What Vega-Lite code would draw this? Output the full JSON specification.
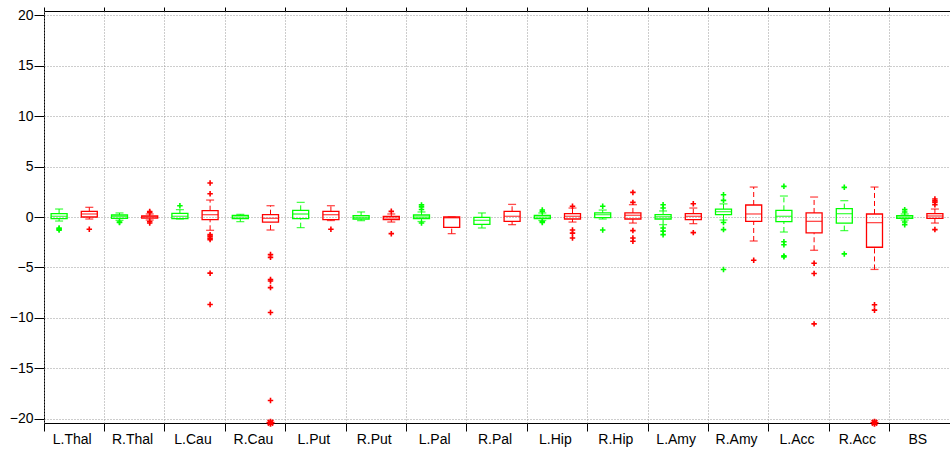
{
  "$schema": "https://vega.github.io/schema/vega-lite/v6.json",
  "width": 906,
  "height": 412,
  "autosize": {"type": "none"},
  "padding": {"left": 44, "top": 11, "right": 0, "bottom": 27},
  "config": {
    "view": {"stroke": "#000000", "strokeWidth": 1},
    "font": "Liberation Sans",
    "axis": {
      "labelFont": "Liberation Sans",
      "labelFontSize": 14,
      "labelColor": "#000000",
      "tickColor": "#000000",
      "domain": false,
      "gridColor": "#9a9a9a",
      "gridDash": [1, 2],
      "gridWidth": 1,
      "title": null
    }
  },
  "datasets": {
    "boxes": [
      {"region": "L.Thal", "grp": "grp1", "lo": -0.4, "q1": -0.17, "med": 0.07, "q3": 0.33, "hi": 0.79},
      {"region": "L.Thal", "grp": "grp2", "lo": -0.2, "q1": 0.0, "med": 0.3, "q3": 0.56, "hi": 0.96},
      {"region": "R.Thal", "grp": "grp1", "lo": -0.33, "q1": -0.13, "med": 0.05, "q3": 0.2, "hi": 0.4},
      {"region": "R.Thal", "grp": "grp2", "lo": -0.3, "q1": -0.12, "med": 0.0, "q3": 0.1, "hi": 0.3},
      {"region": "L.Cau", "grp": "grp1", "lo": -0.2, "q1": -0.17, "med": 0.07, "q3": 0.36, "hi": 0.73},
      {"region": "L.Cau", "grp": "grp2", "lo": -1.32, "q1": -0.26, "med": 0.23, "q3": 0.63, "hi": 1.68},
      {"region": "R.Cau", "grp": "grp1", "lo": -0.46, "q1": -0.17, "med": 0.0, "q3": 0.17, "hi": 0.26},
      {"region": "R.Cau", "grp": "grp2", "lo": -1.29, "q1": -0.5, "med": -0.13, "q3": 0.23, "hi": 1.12},
      {"region": "L.Put", "grp": "grp1", "lo": -1.06, "q1": -0.17, "med": 0.3, "q3": 0.66, "hi": 1.45},
      {"region": "L.Put", "grp": "grp2", "lo": -0.35, "q1": -0.26, "med": 0.23, "q3": 0.56, "hi": 1.12},
      {"region": "R.Put", "grp": "grp1", "lo": -0.36, "q1": -0.2, "med": -0.03, "q3": 0.13, "hi": 0.5},
      {"region": "R.Put", "grp": "grp2", "lo": -0.5, "q1": -0.26, "med": -0.1, "q3": 0.07, "hi": 0.3},
      {"region": "L.Pal", "grp": "grp1", "lo": -0.45, "q1": -0.15, "med": 0.0, "q3": 0.2, "hi": 0.5},
      {"region": "L.Pal", "grp": "grp2", "lo": -1.65, "q1": -1.02, "med": -0.08, "q3": 0.0, "hi": 0.0},
      {"region": "R.Pal", "grp": "grp1", "lo": -1.09, "q1": -0.73, "med": -0.33, "q3": -0.03, "hi": 0.4},
      {"region": "R.Pal", "grp": "grp2", "lo": -0.76, "q1": -0.43, "med": 0.07, "q3": 0.56, "hi": 1.25},
      {"region": "L.Hip", "grp": "grp1", "lo": -0.35, "q1": -0.17, "med": 0.0, "q3": 0.17, "hi": 0.4},
      {"region": "L.Hip", "grp": "grp2", "lo": -0.5, "q1": -0.2, "med": 0.07, "q3": 0.33, "hi": 0.89},
      {"region": "R.Hip", "grp": "grp1", "lo": -0.2, "q1": -0.07, "med": 0.23, "q3": 0.4, "hi": 0.69},
      {"region": "R.Hip", "grp": "grp2", "lo": -0.6, "q1": -0.2, "med": 0.17, "q3": 0.4, "hi": 1.22},
      {"region": "L.Amy", "grp": "grp1", "lo": -0.76, "q1": -0.2, "med": 0.03, "q3": 0.23, "hi": 0.6},
      {"region": "L.Amy", "grp": "grp2", "lo": -0.66, "q1": -0.26, "med": 0.07, "q3": 0.33, "hi": 0.89},
      {"region": "R.Amy", "grp": "grp1", "lo": -0.3, "q1": 0.23, "med": 0.53, "q3": 0.79, "hi": 1.3},
      {"region": "R.Amy", "grp": "grp2", "lo": -2.38, "q1": -0.43, "med": 0.3, "q3": 1.19, "hi": 2.97},
      {"region": "L.Acc", "grp": "grp1", "lo": -1.49, "q1": -0.46, "med": 0.07, "q3": 0.66, "hi": 2.08},
      {"region": "L.Acc", "grp": "grp2", "lo": -3.3, "q1": -1.58, "med": -0.43, "q3": 0.4, "hi": 1.98},
      {"region": "R.Acc", "grp": "grp1", "lo": -1.35, "q1": -0.6, "med": 0.33, "q3": 0.83, "hi": 1.62},
      {"region": "R.Acc", "grp": "grp2", "lo": -5.2, "q1": -3.0, "med": -0.56, "q3": 0.3, "hi": 2.97},
      {"region": "BS", "grp": "grp1", "lo": -0.3, "q1": -0.13, "med": 0.0, "q3": 0.13, "hi": 0.3},
      {"region": "BS", "grp": "grp2", "lo": -0.6, "q1": -0.13, "med": 0.1, "q3": 0.33, "hi": 0.79}
    ],
    "outliers": [
      {"region": "L.Thal", "grp": "grp1", "value": -1.1, "kind": "out"},
      {"region": "L.Thal", "grp": "grp1", "value": -1.2, "kind": "out"},
      {"region": "L.Thal", "grp": "grp1", "value": -1.3, "kind": "out"},
      {"region": "L.Thal", "grp": "grp2", "value": -1.22, "kind": "out"},
      {"region": "R.Thal", "grp": "grp1", "value": -0.5, "kind": "out"},
      {"region": "R.Thal", "grp": "grp1", "value": -0.55, "kind": "out"},
      {"region": "R.Thal", "grp": "grp2", "value": 0.45, "kind": "out"},
      {"region": "R.Thal", "grp": "grp2", "value": 0.55, "kind": "out"},
      {"region": "R.Thal", "grp": "grp2", "value": -0.45, "kind": "out"},
      {"region": "R.Thal", "grp": "grp2", "value": -0.6, "kind": "out"},
      {"region": "L.Cau", "grp": "grp1", "value": 1.12, "kind": "out"},
      {"region": "L.Cau", "grp": "grp2", "value": 2.31, "kind": "out"},
      {"region": "L.Cau", "grp": "grp2", "value": 3.37, "kind": "out"},
      {"region": "L.Cau", "grp": "grp2", "value": -1.75, "kind": "out"},
      {"region": "L.Cau", "grp": "grp2", "value": -1.9, "kind": "out"},
      {"region": "L.Cau", "grp": "grp2", "value": -2.1, "kind": "out"},
      {"region": "L.Cau", "grp": "grp2", "value": -2.24, "kind": "out"},
      {"region": "L.Cau", "grp": "grp2", "value": -5.57, "kind": "out"},
      {"region": "L.Cau", "grp": "grp2", "value": -8.68, "kind": "out"},
      {"region": "R.Cau", "grp": "grp2", "value": -3.73, "kind": "out"},
      {"region": "R.Cau", "grp": "grp2", "value": -4.0, "kind": "out"},
      {"region": "R.Cau", "grp": "grp2", "value": -6.2, "kind": "out"},
      {"region": "R.Cau", "grp": "grp2", "value": -6.35, "kind": "out"},
      {"region": "R.Cau", "grp": "grp2", "value": -7.0, "kind": "out"},
      {"region": "R.Cau", "grp": "grp2", "value": -9.47, "kind": "out"},
      {"region": "R.Cau", "grp": "grp2", "value": -18.2, "kind": "out"},
      {"region": "R.Cau", "grp": "grp2", "value": -20.4, "kind": "clipped"},
      {"region": "L.Put", "grp": "grp2", "value": -1.22, "kind": "out"},
      {"region": "R.Put", "grp": "grp2", "value": 0.56, "kind": "out"},
      {"region": "R.Put", "grp": "grp2", "value": -1.65, "kind": "out"},
      {"region": "L.Pal", "grp": "grp1", "value": 0.75, "kind": "out"},
      {"region": "L.Pal", "grp": "grp1", "value": 1.0, "kind": "out"},
      {"region": "L.Pal", "grp": "grp1", "value": 1.2, "kind": "out"},
      {"region": "L.Pal", "grp": "grp1", "value": -0.6, "kind": "out"},
      {"region": "L.Hip", "grp": "grp1", "value": 0.55, "kind": "out"},
      {"region": "L.Hip", "grp": "grp1", "value": 0.7, "kind": "out"},
      {"region": "L.Hip", "grp": "grp1", "value": -0.45, "kind": "out"},
      {"region": "L.Hip", "grp": "grp1", "value": -0.55, "kind": "out"},
      {"region": "L.Hip", "grp": "grp2", "value": 1.06, "kind": "out"},
      {"region": "L.Hip", "grp": "grp2", "value": -1.29, "kind": "out"},
      {"region": "L.Hip", "grp": "grp2", "value": -1.6, "kind": "out"},
      {"region": "L.Hip", "grp": "grp2", "value": -2.08, "kind": "out"},
      {"region": "R.Hip", "grp": "grp1", "value": 1.06, "kind": "out"},
      {"region": "R.Hip", "grp": "grp1", "value": -1.29, "kind": "out"},
      {"region": "R.Hip", "grp": "grp2", "value": 1.45, "kind": "out"},
      {"region": "R.Hip", "grp": "grp2", "value": 2.44, "kind": "out"},
      {"region": "R.Hip", "grp": "grp2", "value": -1.35, "kind": "out"},
      {"region": "R.Hip", "grp": "grp2", "value": -2.08, "kind": "out"},
      {"region": "R.Hip", "grp": "grp2", "value": -2.41, "kind": "out"},
      {"region": "L.Amy", "grp": "grp1", "value": 0.89, "kind": "out"},
      {"region": "L.Amy", "grp": "grp1", "value": 1.22, "kind": "out"},
      {"region": "L.Amy", "grp": "grp1", "value": -1.09, "kind": "out"},
      {"region": "L.Amy", "grp": "grp1", "value": -1.4, "kind": "out"},
      {"region": "L.Amy", "grp": "grp1", "value": -1.75, "kind": "out"},
      {"region": "L.Amy", "grp": "grp2", "value": 1.32, "kind": "out"},
      {"region": "L.Amy", "grp": "grp2", "value": -1.55, "kind": "out"},
      {"region": "R.Amy", "grp": "grp1", "value": 1.65, "kind": "out"},
      {"region": "R.Amy", "grp": "grp1", "value": 2.2, "kind": "out"},
      {"region": "R.Amy", "grp": "grp1", "value": -0.55, "kind": "out"},
      {"region": "R.Amy", "grp": "grp1", "value": -1.25, "kind": "out"},
      {"region": "R.Amy", "grp": "grp1", "value": -5.2, "kind": "out"},
      {"region": "R.Amy", "grp": "grp2", "value": -4.29, "kind": "out"},
      {"region": "L.Acc", "grp": "grp1", "value": 3.04, "kind": "out"},
      {"region": "L.Acc", "grp": "grp1", "value": -2.45, "kind": "out"},
      {"region": "L.Acc", "grp": "grp1", "value": -2.75, "kind": "out"},
      {"region": "L.Acc", "grp": "grp1", "value": -3.86, "kind": "out"},
      {"region": "L.Acc", "grp": "grp1", "value": -3.95, "kind": "out"},
      {"region": "L.Acc", "grp": "grp2", "value": -4.58, "kind": "out"},
      {"region": "L.Acc", "grp": "grp2", "value": -5.6, "kind": "out"},
      {"region": "L.Acc", "grp": "grp2", "value": -10.6, "kind": "out"},
      {"region": "R.Acc", "grp": "grp1", "value": 2.94, "kind": "out"},
      {"region": "R.Acc", "grp": "grp1", "value": -3.66, "kind": "out"},
      {"region": "R.Acc", "grp": "grp2", "value": -8.71, "kind": "out"},
      {"region": "R.Acc", "grp": "grp2", "value": -9.24, "kind": "out"},
      {"region": "R.Acc", "grp": "grp2", "value": -20.4, "kind": "clipped"},
      {"region": "BS", "grp": "grp1", "value": 0.5, "kind": "out"},
      {"region": "BS", "grp": "grp1", "value": 0.73, "kind": "out"},
      {"region": "BS", "grp": "grp1", "value": -0.5, "kind": "out"},
      {"region": "BS", "grp": "grp1", "value": -0.76, "kind": "out"},
      {"region": "BS", "grp": "grp2", "value": 1.22, "kind": "out"},
      {"region": "BS", "grp": "grp2", "value": 1.45, "kind": "out"},
      {"region": "BS", "grp": "grp2", "value": 1.6, "kind": "out"},
      {"region": "BS", "grp": "grp2", "value": 1.78, "kind": "out"},
      {"region": "BS", "grp": "grp2", "value": -1.25, "kind": "out"}
    ]
  },
  "resolve": {"axis": {"x": "independent"}},
  "layer": [
    {
      "encoding": {
        "x": {
          "field": "region",
          "type": "nominal",
          "scale": {
            "domain": ["L.Thal", "R.Thal", "L.Cau", "R.Cau", "L.Put", "R.Put", "L.Pal", "R.Pal", "L.Hip", "R.Hip", "L.Amy", "R.Amy", "L.Acc", "R.Acc", "BS"],
            "paddingInner": 0,
            "paddingOuter": 0
          },
          "axis": {
            "orient": "bottom",
            "bandPosition": 0,
            "grid": true,
            "tickSize": 8,
            "labelPadding": 1,
            "labelOffset": -2,
            "labelAngle": 0
          }
        },
        "xOffset": {
          "field": "grp",
          "type": "nominal",
          "scale": {"domain": ["grp1", "grp2"], "paddingInner": 0, "paddingOuter": 0}
        },
        "color": {
          "field": "grp",
          "type": "nominal",
          "scale": {"domain": ["grp1", "grp2"], "range": ["#00ff00", "#ff0000"]},
          "legend": null
        }
      },
      "layer": [
        {
          "data": {"name": "boxes"},
          "mark": {"type": "rule", "strokeDash": [5, 3], "strokeWidth": 1},
          "encoding": {
            "y": {
              "field": "q3",
              "type": "quantitative",
              "scale": {"domain": [-20.43, 20.43], "nice": false, "zero": false},
              "axis": {
                "values": [-20, -15, -10, -5, 0, 5, 10, 15, 20],
                "grid": true,
                "tickSize": 10,
                "labelPadding": 1
              }
            },
            "y2": {"field": "hi"}
          }
        },
        {
          "data": {"name": "boxes"},
          "mark": {"type": "rule", "strokeDash": [5, 3], "strokeWidth": 1},
          "encoding": {
            "y": {"field": "lo", "type": "quantitative"},
            "y2": {"field": "q1"}
          }
        },
        {
          "data": {"name": "boxes"},
          "mark": {"type": "bar", "filled": false, "size": 16, "strokeWidth": 1.3},
          "encoding": {
            "y": {"field": "q1", "type": "quantitative"},
            "y2": {"field": "q3"}
          }
        },
        {
          "data": {"name": "boxes"},
          "mark": {"type": "tick", "size": 8, "thickness": 1.3},
          "encoding": {"y": {"field": "hi", "type": "quantitative"}}
        },
        {
          "data": {"name": "boxes"},
          "mark": {"type": "tick", "size": 8, "thickness": 1.3},
          "encoding": {"y": {"field": "lo", "type": "quantitative"}}
        },
        {
          "data": {"name": "boxes"},
          "mark": {"type": "tick", "size": 16, "thickness": 1.3},
          "encoding": {"y": {"field": "med", "type": "quantitative"}}
        },
        {
          "data": {"name": "outliers"},
          "transform": [{"filter": "datum.kind == 'out'"}],
          "mark": {"type": "point", "shape": "M-1,0L1,0M0,-1L0,1", "size": 30, "strokeWidth": 1.6, "filled": false, "opacity": 1},
          "encoding": {"y": {"field": "value", "type": "quantitative"}}
        },
        {
          "data": {"name": "outliers"},
          "transform": [{"filter": "datum.kind == 'clipped'"}],
          "mark": {"type": "point", "shape": "M-1,0L1,0M0,-1L0,1M-0.7,-0.7L0.7,0.7M-0.7,0.7L0.7,-0.7", "size": 64, "strokeWidth": 1.8, "filled": false, "opacity": 1, "clip": false},
          "encoding": {"y": {"field": "value", "type": "quantitative"}}
        }
      ]
    },
    {
      "data": {"name": "boxes"},
      "mark": {"type": "tick", "opacity": 0},
      "encoding": {
        "x": {
          "field": "region",
          "type": "nominal",
          "scale": {
            "domain": ["L.Thal", "R.Thal", "L.Cau", "R.Cau", "L.Put", "R.Put", "L.Pal", "R.Pal", "L.Hip", "R.Hip", "L.Amy", "R.Amy", "L.Acc", "R.Acc", "BS"],
            "paddingInner": 0,
            "paddingOuter": 0
          },
          "axis": {
            "orient": "top",
            "bandPosition": 0,
            "grid": false,
            "labels": false,
            "tickSize": 4
          }
        },
        "y": {"field": "med", "type": "quantitative"}
      }
    }
  ]
}
